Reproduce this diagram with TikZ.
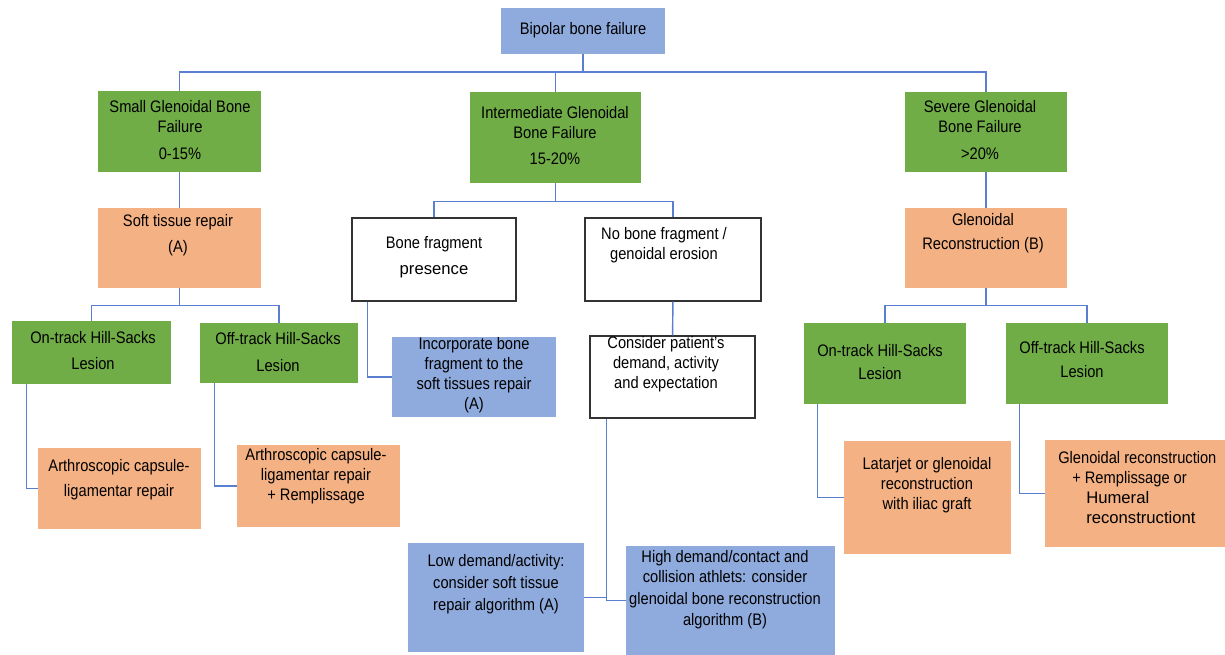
\documentclass[tikz,border=0pt]{standalone}
\usepackage{fontspec}
\setmainfont{Liberation Sans}[FakeStretch=0.88]
\newfontfamily\widefont{Liberation Sans}
\definecolor{boxgreen}{HTML}{70AD47}
\definecolor{boxorange}{HTML}{F4B183}
\definecolor{boxblue}{HTML}{8FAADC}
\definecolor{linkblue}{HTML}{5B7FD0}
\definecolor{edgegray}{HTML}{333333}

\tikzset{
  greenbox/.style={rectangle, fill=boxgreen, inner sep=0pt},
  orangebox/.style={rectangle, fill=boxorange, inner sep=0pt},
  bluebox/.style={rectangle, fill=boxblue, inner sep=0pt},
  whitebox/.style={rectangle, draw=edgegray, line width=1pt, fill=white, inner sep=0pt},
  txt/.style={align=center, inner sep=0pt, font=\fontsize{12.5}{15}\selectfont},
  link/.style={draw=linkblue, line width=1.1pt},
}

\begin{document}
\begin{tikzpicture}[x=0.75pt, y=-0.75pt]
\useasboundingbox (0,0) rectangle (1225,655);

% boxes
\node[bluebox, minimum width=123pt, minimum height=34.5pt] (top) at (583,31) {};
\node[greenbox, minimum width=122.25pt, minimum height=60.75pt] (small) at (179.5,131.5) {};
\node[greenbox, minimum width=128.25pt, minimum height=68.25pt] (inter) at (555.5,137.5) {};
\node[greenbox, minimum width=121.5pt, minimum height=60pt] (severe) at (986,132) {};
\node[orangebox, minimum width=122.25pt, minimum height=60pt] (soft) at (179.5,248) {};
\node[orangebox, minimum width=121.5pt, minimum height=60pt] (glen) at (986,248) {};
\node[whitebox, minimum width=123pt, minimum height=62.25pt] (frag) at (434,259.5) {};
\node[whitebox, minimum width=132pt, minimum height=62.25pt] (nofrag) at (673,259.5) {};
\node[greenbox, minimum width=119.25pt, minimum height=47.25pt] (onL) at (91.5,352.5) {};
\node[greenbox, minimum width=118.5pt, minimum height=45pt] (offL) at (279,353) {};
\node[bluebox, minimum width=123pt, minimum height=60pt] (incorp) at (474,377) {};
\node[whitebox, minimum width=123.75pt, minimum height=61.5pt] (consider) at (672.5,377) {};
\node[orangebox, minimum width=122.25pt, minimum height=60.75pt] (arthA) at (119.5,488.5) {};
\node[orangebox, minimum width=122.25pt, minimum height=61.5pt] (arthB) at (318.5,486) {};
\node[bluebox, minimum width=132pt, minimum height=81.75pt] (low) at (496,597.5) {};
\node[bluebox, minimum width=156.75pt, minimum height=81.75pt] (high) at (730.5,600.5) {};
\node[greenbox, minimum width=121.5pt, minimum height=60.75pt] (onR) at (885,363.5) {};
\node[greenbox, minimum width=121.5pt, minimum height=60.75pt] (offR) at (1087,363.5) {};
\node[orangebox, minimum width=125.25pt, minimum height=84.75pt] (latarjet) at (927.5,497.5) {};
\node[orangebox, minimum width=135pt, minimum height=80.25pt] (glenrec) at (1135,493.5) {};

% connectors
\coordinate (busA) at (583,72);
\draw[link] (top.south) -- (busA);
\draw[link] (small.north) |- (busA) -| (severe.north);
\draw[link] (inter.north) -- (inter.north |- busA);
\draw[link] (small) -- (soft);
\draw[link] (severe) -- (glen);
\draw[link] (nofrag) -- (consider);
\draw[link] (soft.south) -- ++(0,17) -| (onL.north);
\draw[link] (soft.south) -- ++(0,17) -| (offL.north);
\draw[link] (inter.south) -- ++(0,18) -| (frag.north);
\draw[link] (inter.south) -- ++(0,18) -| (nofrag.north);
\draw[link] (glen.south) -- ++(0,17) -| (onR.north);
\draw[link] (glen.south) -- ++(0,17) -| (offR.north);
\draw[link] ([xshift=11.25pt]onL.south west) |- (arthA.west);
\draw[link] ([xshift=11.25pt]offL.south west) |- (arthB.west);
\draw[link] ([xshift=12pt]frag.south west) |- (incorp.west);
\draw[link] ([xshift=10.5pt]onR.south west) |- (latarjet.west);
\draw[link] ([xshift=10.5pt]offR.south west) |- (glenrec.west);
\draw[link] ([xshift=12.75pt]consider.south west) |- (low.east);
\draw[link] ([xshift=12.75pt]consider.south west) |- (high.west);

% texts
\node[txt] (topT) at (583,30) {Bipolar bone failure};
\node[txt] (smallT) at (180,130) {Small Glenoidal Bone\\ Failure\\[5pt] 0-15\%};
\node[txt] (interT) at (555,135.5) {Intermediate Glenoidal\\ Bone Failure\\[4pt] 15-20\%};
\node[txt] (severeT) at (980,130) {Severe Glenoidal\\ Bone Failure\\[5pt] >20\%};
\node[txt] (softT) at (178,235) {Soft tissue repair\\[4.5pt] (A)};
\node[txt] (glenT) at (983,233) {Glenoidal\\[3pt] Reconstruction (B)};
\node[txt] (fragT) at (434,257) {Bone fragment\\[4.5pt] {\widefont presence}};
\node[txt] (nofragT) at (664,245) {No bone fragment /\\ genoidal erosion};
\node[txt] (onLT) at (93,350.5) {On-track Hill-Sacks\\[5pt] Lesion};
\node[txt] (offLT) at (278,352) {Off-track Hill-Sacks\\[5pt] Lesion};
\node[txt] (incorpT) at (474,375.5) {Incorporate bone\\ fragment to the\\ soft tissues repair\\ (A)};
\node[txt] (considerT) at (666,364.5) {Consider patient's\\ demand, activity\\ and expectation};
\node[txt] (arthAT) at (119,479.5) {Arthroscopic capsule-\\[3.75pt] ligamentar repair};
\node[txt] (arthBT) at (316,476.5) {Arthroscopic capsule-\\ ligamentar repair\\ + Remplissage};
\node[txt] (lowT) at (496,584) {Low demand/activity:\\[2pt] consider soft tissue\\[1pt] repair algorithm (A)};
\node[txt] (highT) at (725,590) {High demand/contact and\\ collision athlets: consider\\[1pt] glenoidal bone reconstruction\\[1pt] algorithm (B)};
\node[txt] (onRT) at (880,362.5) {On-track Hill-Sacks\\[2.25pt] Lesion};
\node[txt] (offRT) at (1082,360) {Off-track Hill-Sacks\\[3pt] Lesion};
\node[txt] (latarjetT) at (927,485.5) {Latarjet or glenoidal\\ reconstruction\\ with iliac graft};
\node[txt, align=left, anchor=west] (glenrecT) at (1058,488) {Glenoidal reconstruction\\ \hspace*{10.5pt}+ Remplissage or\\ \hspace*{21pt}{\widefont Humeral}\\ \hspace*{21pt}{\widefont reconstructiont}};

%\draw (0,0) rectangle (1225,655);
\end{tikzpicture}
\end{document}
